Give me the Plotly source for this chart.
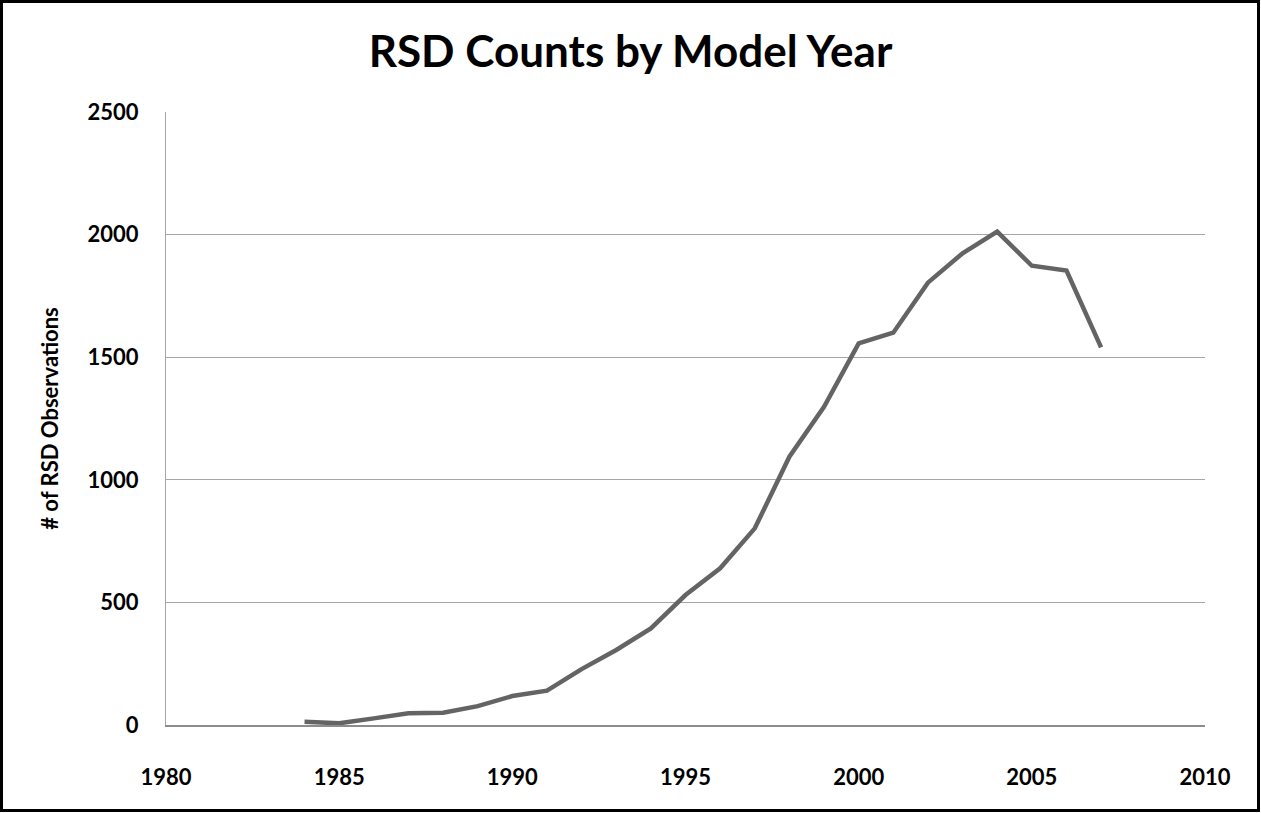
import plotly.graph_objects as go

years = [1984, 1985, 1986, 1987, 1988, 1989, 1990, 1991, 1992, 1993, 1994, 1995,
         1996, 1997, 1998, 1999, 2000, 2001, 2002, 2003, 2004, 2005, 2006, 2007]
counts = [13, 7, 27, 48, 50, 77, 118, 140, 228, 306, 394, 530,
          639, 802, 1094, 1298, 1556, 1600, 1804, 1924, 2012, 1873, 1853, 1540]

title_text = "RSD Counts by Model Year"
y_title = "# of RSD Observations"
x_ticks = [1980, 1985, 1990, 1995, 2000, 2005, 2010]
y_ticks = [0, 500, 1000, 1500, 2000, 2500]

FONT = "Lato"

fig = go.Figure()
fig.add_trace(go.Scatter(
    x=years, y=counts, mode="lines",
    line=dict(color="#646464", width=4.5),
    showlegend=False, hoverinfo="x+y",
))

fig.update_layout(
    width=1261, height=813,
    margin=dict(l=166, r=56, t=112, b=88),
    paper_bgcolor="white", plot_bgcolor="white",
    title=dict(text="<b>" + title_text + "</b>", x=0.5, xanchor="center",
               y=1 - 52 / 813, yanchor="middle",
               font=dict(family=FONT, size=44, color="black")),
    xaxis=dict(range=[1980, 2010], tickvals=x_ticks,
               ticktext=["<b>%d</b>" % v for v in x_ticks],
               showgrid=False, zeroline=False,
               showline=True, linecolor="#8c8c8c", linewidth=2,
               ticks="", ticklabelstandoff=32,
               tickfont=dict(family=FONT, size=22, color="black")),
    yaxis=dict(range=[0, 2500], tickvals=y_ticks,
               ticktext=["<b>%d</b>" % v for v in y_ticks],
               showgrid=True, gridcolor="#a6a6a6", gridwidth=1,
               zeroline=False, showline=True, linecolor="#a6a6a6", linewidth=1,
               ticks="", ticklabelstandoff=22,
               tickfont=dict(family=FONT, size=22, color="black"),
               title=dict(text="<b>" + y_title + "</b>", standoff=22,
                          font=dict(family=FONT, size=22, color="black"))),
    shapes=[dict(type="rect", xref="paper", yref="paper",
                 x0=(1.5 - 166) / 1039, x1=(1258.5 - 166) / 1039,
                 y0=(725 - 810.5) / 613, y1=(725 - 1.5) / 613,
                 line=dict(color="black", width=3), fillcolor="rgba(0,0,0,0)",
                 layer="above")],
)

fig.write_html("out.html",
               config={"displayModeBar": False},
               post_script="document.body.style.margin='0';"
                           "document.body.style.overflow='hidden';")
